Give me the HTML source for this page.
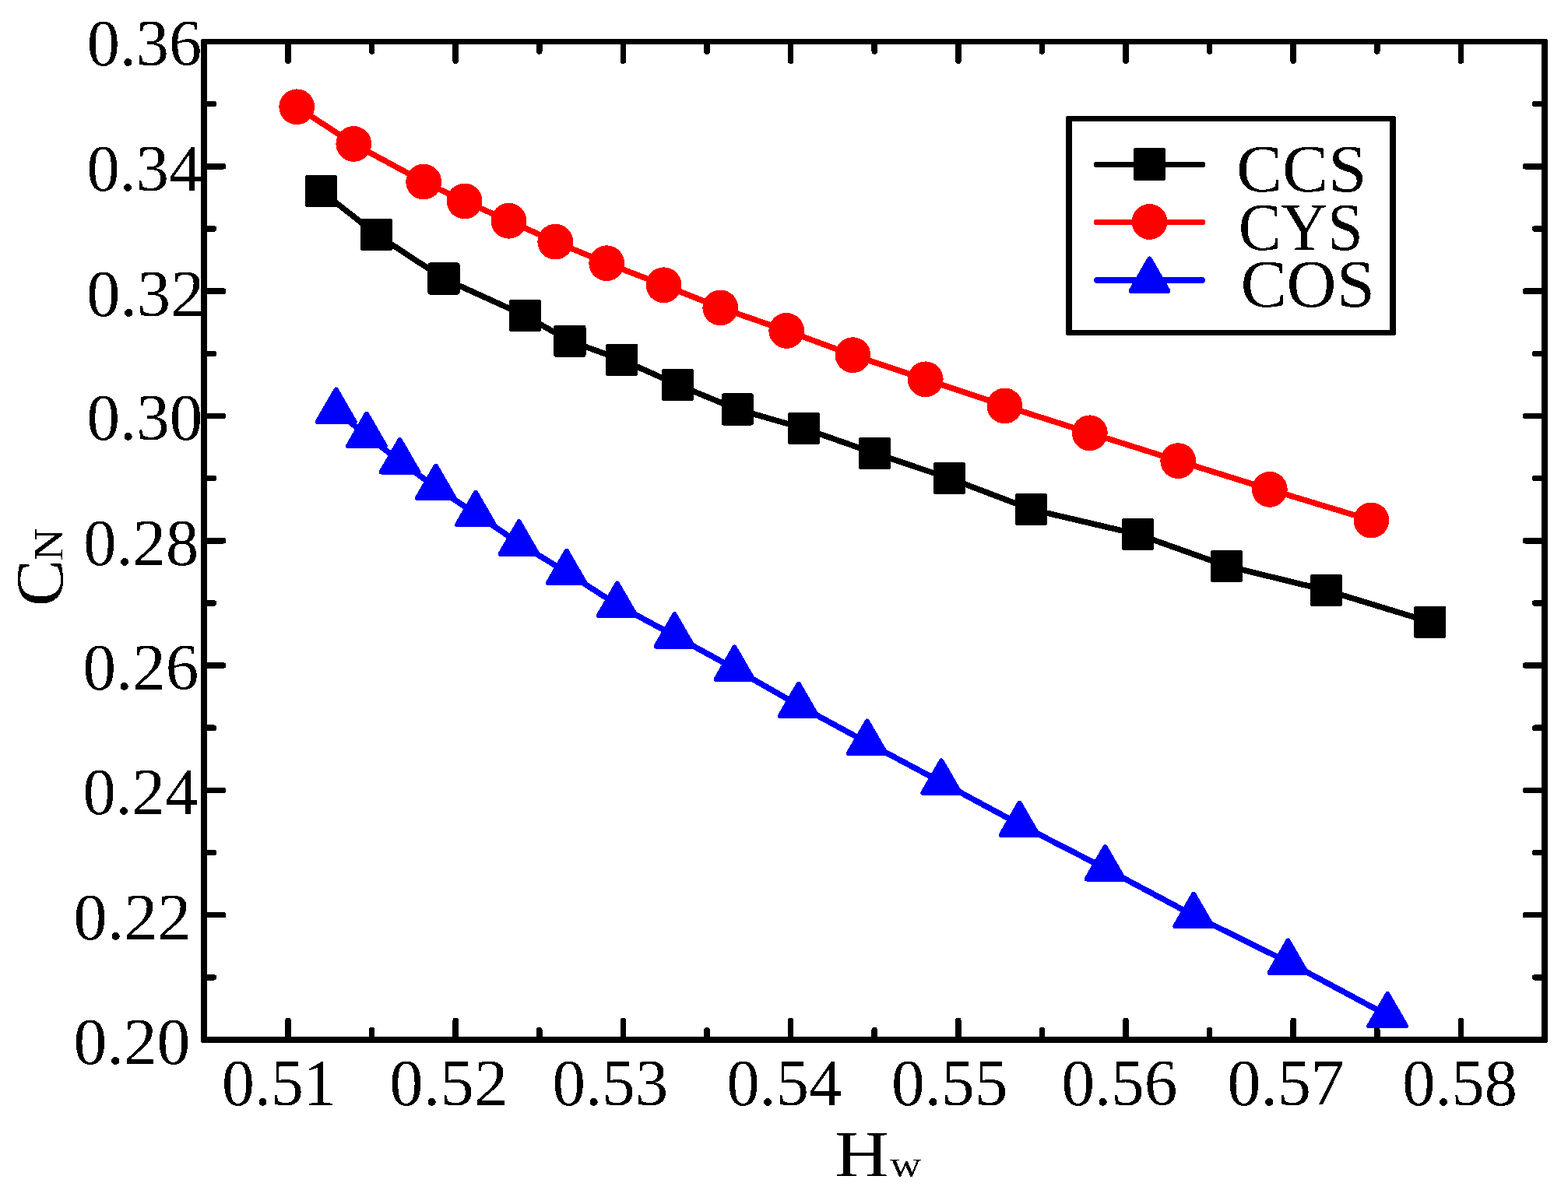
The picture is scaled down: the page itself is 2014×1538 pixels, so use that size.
<!DOCTYPE html>
<html lang="en"><head><meta charset="utf-8"><title>C_N versus H_w</title>
<style>html,body{margin:0;padding:0;background:#fff}body{width:2014px;height:1538px;overflow:hidden}svg{display:block}text{font-family:"Liberation Serif","DejaVu Serif",serif;fill:#000}</style></head><body>
<svg width="2014" height="1538" viewBox="0 0 2014 1538" shape-rendering="crispEdges">
<defs><filter id="bin" x="0" y="0" width="100%" height="100%" filterUnits="userSpaceOnUse" primitiveUnits="userSpaceOnUse" color-interpolation-filters="sRGB"><feComponentTransfer><feFuncA type="discrete" tableValues="0 1"/></feComponentTransfer></filter></defs>
<rect width="2014" height="1538" fill="#fff"/>
<g stroke="#000" stroke-width="7.5" stroke-linecap="round" fill="none">
<path d="M370,1336v-24.75M370,53.5v24.75M477.6,1336v-12.5M477.6,53.5v12.5M585.2,1336v-24.75M585.2,53.5v24.75M692.8,1336v-12.5M692.8,53.5v12.5M800.4,1336v-24.75M800.4,53.5v24.75M908,1336v-12.5M908,53.5v12.5M1015.6,1336v-24.75M1015.6,53.5v24.75M1123.2,1336v-12.5M1123.2,53.5v12.5M1230.8,1336v-24.75M1230.8,53.5v24.75M1338.4,1336v-12.5M1338.4,53.5v12.5M1446,1336v-24.75M1446,53.5v24.75M1553.6,1336v-12.5M1553.6,53.5v12.5M1661.2,1336v-24.75M1661.2,53.5v24.75M1768.8,1336v-12.5M1768.8,53.5v12.5M1876.4,1336v-24.75M1876.4,53.5v24.75M262,133.66h12.5M1984,133.66h-12.5M262,213.81h24.75M1984,213.81h-24.75M262,293.97h12.5M1984,293.97h-12.5M262,374.12h24.75M1984,374.12h-24.75M262,454.28h12.5M1984,454.28h-12.5M262,534.44h24.75M1984,534.44h-24.75M262,614.59h12.5M1984,614.59h-12.5M262,694.75h24.75M1984,694.75h-24.75M262,774.91h12.5M1984,774.91h-12.5M262,855.06h24.75M1984,855.06h-24.75M262,935.22h12.5M1984,935.22h-12.5M262,1015.38h24.75M1984,1015.38h-24.75M262,1095.53h12.5M1984,1095.53h-12.5M262,1175.69h24.75M1984,1175.69h-24.75M262,1255.84h12.5M1984,1255.84h-12.5"/>
</g>
<g fill="none" stroke-width="7.5" stroke-linejoin="round" stroke-linecap="round">
<polyline stroke="#000" points="412.5,245.4 483.7,301.4 570,358 674.4,405.5 731.9,438.3 798.7,462.3 870.5,494.5 947.2,526 1032.7,550.5 1123.5,582.4 1219.5,614.5 1324.7,654.5 1461.2,686.5 1575.5,727.2 1703.6,758.5 1836.6,799.1"/>
<polyline stroke="#f00" points="381.2,137.3 454.3,184.9 544.2,233.6 596.6,258.5 653.5,283.8 713.3,310.6 779.2,338.2 852.5,366.3 925.3,395.4 1010.2,424.9 1095.4,456.2 1188.7,487.3 1290.5,521.5 1399.8,556.3 1513.2,592.1 1630.8,628.9 1761.4,668.5"/>
<polyline stroke="#00f" points="431.7,528.1 470.9,559.2 513.6,592.7 559.8,626.2 611,660.3 666.6,697.9 727.7,735.3 792.8,777.1 866.4,816.8 943.4,859.1 1025.7,906.2 1113.8,954.1 1209.2,1005 1309.5,1059.2 1419.5,1115.7 1533.2,1176.3 1654.4,1236.1 1782.2,1304.6"/>
</g>
<g fill="#000"><rect x="391.9" y="224.8" width="41.2" height="41.2" rx="3" ry="3"/><rect x="463.1" y="280.8" width="41.2" height="41.2" rx="3" ry="3"/><rect x="549.4" y="337.4" width="41.2" height="41.2" rx="3" ry="3"/><rect x="653.8" y="384.9" width="41.2" height="41.2" rx="3" ry="3"/><rect x="711.3" y="417.7" width="41.2" height="41.2" rx="3" ry="3"/><rect x="778.1" y="441.7" width="41.2" height="41.2" rx="3" ry="3"/><rect x="849.9" y="473.9" width="41.2" height="41.2" rx="3" ry="3"/><rect x="926.6" y="505.4" width="41.2" height="41.2" rx="3" ry="3"/><rect x="1012.1" y="529.9" width="41.2" height="41.2" rx="3" ry="3"/><rect x="1102.9" y="561.8" width="41.2" height="41.2" rx="3" ry="3"/><rect x="1198.9" y="593.9" width="41.2" height="41.2" rx="3" ry="3"/><rect x="1304.1" y="633.9" width="41.2" height="41.2" rx="3" ry="3"/><rect x="1440.6" y="665.9" width="41.2" height="41.2" rx="3" ry="3"/><rect x="1554.9" y="706.6" width="41.2" height="41.2" rx="3" ry="3"/><rect x="1683" y="737.9" width="41.2" height="41.2" rx="3" ry="3"/><rect x="1816" y="778.5" width="41.2" height="41.2" rx="3" ry="3"/></g>
<g fill="#f00"><circle cx="381.2" cy="137.3" r="22.9"/><circle cx="454.3" cy="184.9" r="22.9"/><circle cx="544.2" cy="233.6" r="22.9"/><circle cx="596.6" cy="258.5" r="22.9"/><circle cx="653.5" cy="283.8" r="22.9"/><circle cx="713.3" cy="310.6" r="22.9"/><circle cx="779.2" cy="338.2" r="22.9"/><circle cx="852.5" cy="366.3" r="22.9"/><circle cx="925.3" cy="395.4" r="22.9"/><circle cx="1010.2" cy="424.9" r="22.9"/><circle cx="1095.4" cy="456.2" r="22.9"/><circle cx="1188.7" cy="487.3" r="22.9"/><circle cx="1290.5" cy="521.5" r="22.9"/><circle cx="1399.8" cy="556.3" r="22.9"/><circle cx="1513.2" cy="592.1" r="22.9"/><circle cx="1630.8" cy="628.9" r="22.9"/><circle cx="1761.4" cy="668.5" r="22.9"/></g>
<g fill="#00f" stroke="#00f" stroke-width="6.25" stroke-linejoin="round"><polygon points="431.7,500.68 455.45,541.81 407.95,541.81"/><polygon points="470.9,531.78 494.65,572.91 447.15,572.91"/><polygon points="513.6,565.28 537.35,606.41 489.85,606.41"/><polygon points="559.8,598.78 583.55,639.91 536.05,639.91"/><polygon points="611,632.88 634.75,674.01 587.25,674.01"/><polygon points="666.6,670.48 690.35,711.61 642.85,711.61"/><polygon points="727.7,707.88 751.45,749.01 703.95,749.01"/><polygon points="792.8,749.68 816.55,790.81 769.05,790.81"/><polygon points="866.4,789.38 890.15,830.51 842.65,830.51"/><polygon points="943.4,831.68 967.15,872.81 919.65,872.81"/><polygon points="1025.7,878.78 1049.45,919.91 1001.95,919.91"/><polygon points="1113.8,926.68 1137.55,967.81 1090.05,967.81"/><polygon points="1209.2,977.58 1232.95,1018.71 1185.45,1018.71"/><polygon points="1309.5,1031.78 1333.25,1072.91 1285.75,1072.91"/><polygon points="1419.5,1088.28 1443.25,1129.41 1395.75,1129.41"/><polygon points="1533.2,1148.88 1556.95,1190.01 1509.45,1190.01"/><polygon points="1654.4,1208.68 1678.15,1249.81 1630.65,1249.81"/><polygon points="1782.2,1277.18 1805.95,1318.31 1758.45,1318.31"/></g>
<path fill="#000" fill-rule="evenodd" d="M260.5,50H1985.5Q1988,50 1988,52.5V1337.5Q1988,1340 1985.5,1340H260.5Q258,1340 258,1337.5V52.5Q258,50 260.5,50ZM266,57V1332H1980V57Z"/>
<path fill="#000" fill-rule="evenodd" d="M1371.5,149H1790.5Q1793,149 1793,151.5V428.5Q1793,431 1790.5,431H1371.5Q1369,431 1369,428.5V151.5Q1369,149 1371.5,149ZM1377,156V424H1785V156Z"/>
<g fill="none" stroke-width="7.5" stroke-linecap="round"><path stroke="#000" d="M1408.75,211.5H1544.25"/><path stroke="#f00" d="M1408.75,285.5H1544.25"/><path stroke="#00f" d="M1408.75,360H1544.25"/></g>
<g fill="#000"><rect x="1456" y="190" width="41" height="42" rx="3" ry="3"/></g>
<g fill="#f00"><circle cx="1476.5" cy="285" r="22.9"/></g>
<g fill="#00f" stroke="#00f" stroke-width="6.25" stroke-linejoin="round"><polygon points="1476.5,332.58 1500.25,373.71 1452.75,373.71"/></g>
<g filter="url(#bin)">
<text id="y0" transform="translate(111.63,84.31) scale(1.0533,1.0704)" font-size="80">0.36</text>
<text id="y1" transform="translate(111.42,244.96) scale(1.0548,1.0704)" font-size="80">0.34</text>
<text id="y2" transform="translate(111.35,405.6) scale(1.0788,1.0704)" font-size="80">0.32</text>
<text id="y3" transform="translate(111.4,565.18) scale(1.0627,1.0704)" font-size="80">0.30</text>
<text id="y4" transform="translate(107.24,725.83) scale(1.0567,1.0704)" font-size="80">0.28</text>
<text id="y5" transform="translate(106.4,886.47) scale(1.0627,1.0704)" font-size="80">0.26</text>
<text id="y6" transform="translate(106.42,1046.05) scale(1.0548,1.0704)" font-size="80">0.24</text>
<text id="y7" transform="translate(94.56,1206.7) scale(1.0782,1.0704)" font-size="80">0.22</text>
<text id="y8" transform="translate(94.58,1367.34) scale(1.0701,1.0704)" font-size="80">0.20</text>
<text id="x0" transform="translate(285.06,1419.76) scale(1.0470,1.0593)" font-size="80">0.51</text>
<text id="x1" transform="translate(500.33,1419.76) scale(1.0856,1.0593)" font-size="80">0.52</text>
<text id="x2" transform="translate(709.4,1419.76) scale(1.0627,1.0593)" font-size="80">0.53</text>
<text id="x3" transform="translate(933.42,1419.76) scale(1.0548,1.0593)" font-size="80">0.54</text>
<text id="x4" transform="translate(1145.01,1419.76) scale(1.0672,1.0593)" font-size="80">0.55</text>
<text id="x5" transform="translate(1363.39,1419.76) scale(1.0649,1.0593)" font-size="80">0.56</text>
<text id="x6" transform="translate(1576.4,1419.76) scale(1.0748,1.0593)" font-size="80">0.57</text>
<text id="x7" transform="translate(1801.24,1419.76) scale(1.0560,1.0593)" font-size="80">0.58</text>
<text id="lg0" transform="translate(1588.05,245.51) scale(1.1070,1.0741)" font-size="80">CCS</text>
<text id="lg1" transform="translate(1590.71,320.54) scale(1.0286,1.0796)" font-size="80">CYS</text>
<text id="lg2" transform="translate(1593.46,393.92) scale(1.1088,1.0778)" font-size="80">COS</text>
<text id="xl" transform="translate(1072.52,1511.9) scale(1.1925,1.0509)" font-size="80">H<tspan x="59.11" font-size="46.28" textLength="33.85" lengthAdjust="spacingAndGlyphs">w</tspan></text>
<text id="yl" transform="translate(80.21,779.29) rotate(-90) scale(1.1304,1.0870)" font-size="80">C<tspan x="51.97" font-size="49.22" textLength="36.97" lengthAdjust="spacingAndGlyphs">N</tspan></text>
</g>
</svg></body></html>
